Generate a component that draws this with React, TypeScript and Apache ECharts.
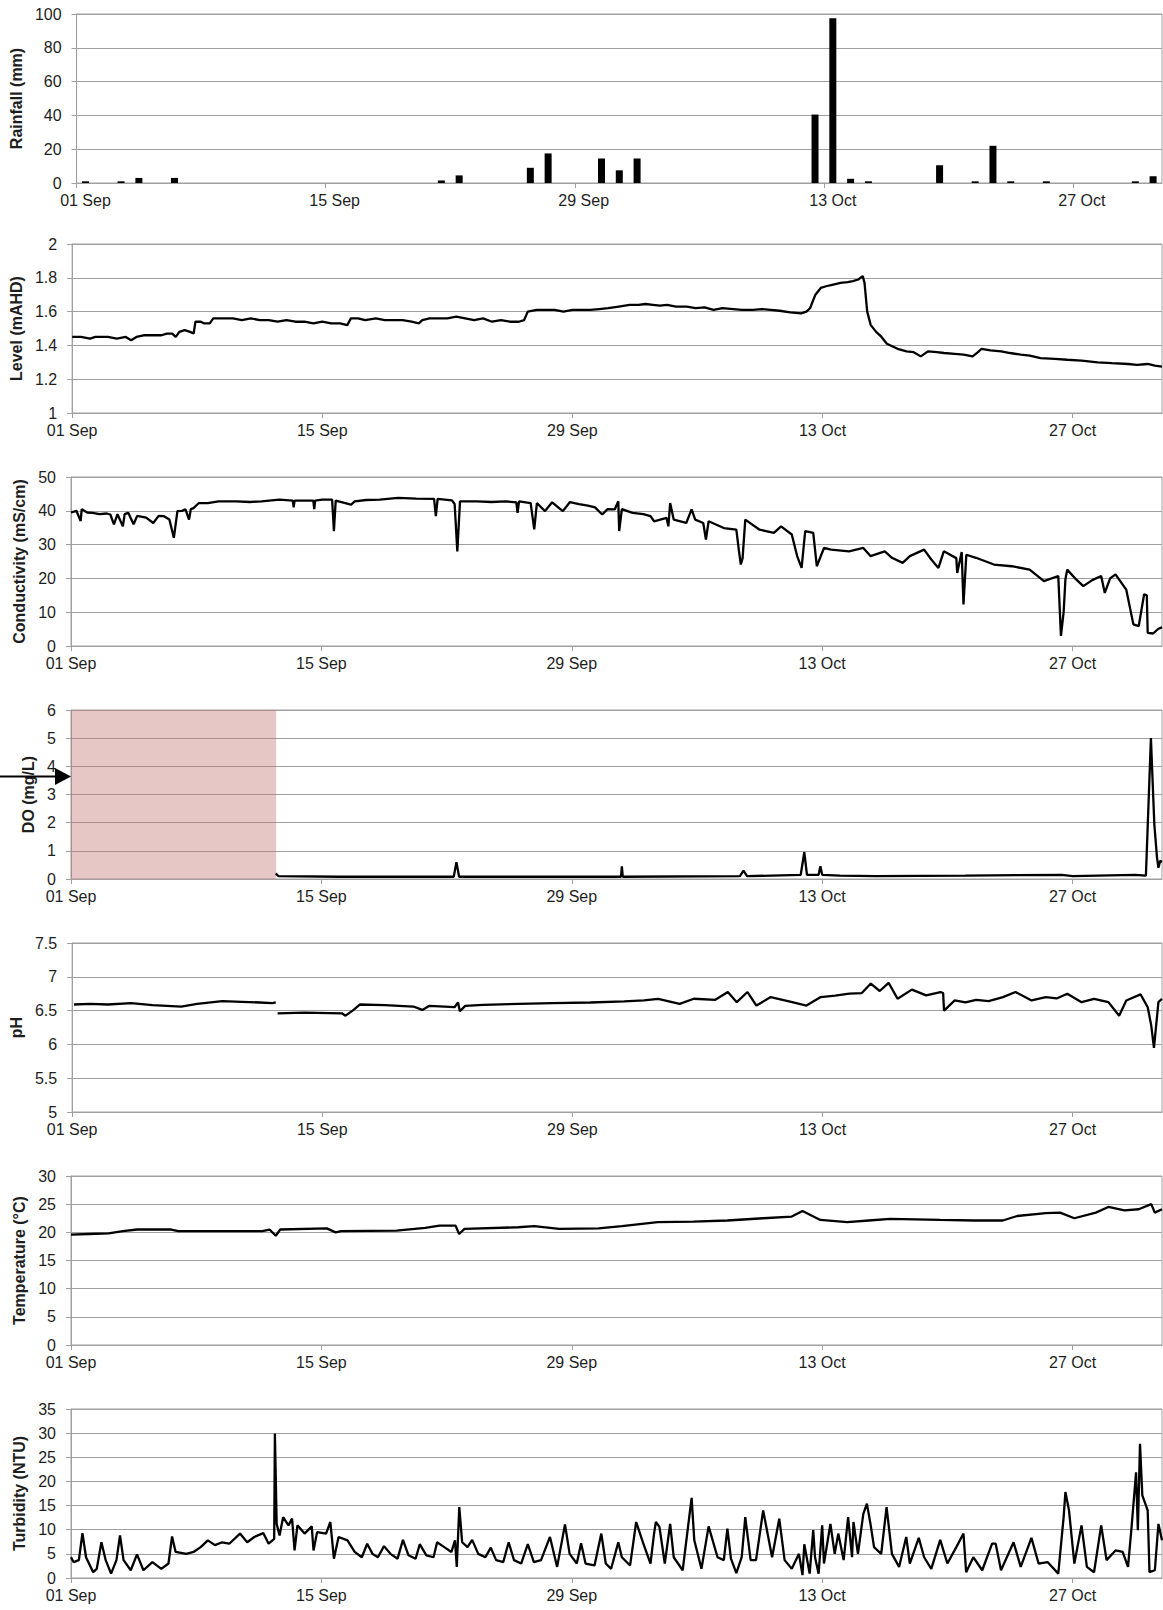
import React, { useEffect, useRef } from "react";
import * as echarts from "echarts";

// ---------- tick labels ----------
const xTickDays = [0, 14, 28, 42, 56];
const xTickLabels = ["01 Sep", "15 Sep", "29 Sep", "13 Oct", "27 Oct"];

// ---------- rainfall (daily totals, day index from 01 Sep) ----------
const rainfallDayIndex = [0, 2, 3, 5, 20, 21, 25, 26, 29, 30, 31, 41, 42, 43, 44, 48, 50, 51, 52, 54, 59, 60];
const rainfallMm = [1, 1, 3, 3, 1.5, 4.5, 9, 17.5, 14.5, 7.5, 14.5, 40.5, 97.5, 2.5, 1, 10.5, 1, 22, 1, 1, 1, 4];

// ---------- level [day, mAHD] ----------
const levelSeries = [
  [0, 1.45], [0.5, 1.45], [1, 1.44], [1.3, 1.45], [2, 1.45], [2.5, 1.44], [3, 1.45], [3.3, 1.43], [3.6, 1.45],
  [4, 1.46], [4.5, 1.46], [5, 1.46], [5.3, 1.47], [5.6, 1.47], [5.8, 1.45], [6, 1.48], [6.3, 1.49], [6.6, 1.48],
  [6.8, 1.47], [6.9, 1.54], [7.2, 1.54], [7.4, 1.53], [7.7, 1.53], [7.9, 1.56], [8.5, 1.56], [9, 1.56], [9.5, 1.55],
  [10, 1.56], [10.5, 1.55], [11, 1.55], [11.5, 1.54], [12, 1.55], [12.5, 1.54], [13, 1.54], [13.5, 1.53], [14, 1.54],
  [14.5, 1.53], [15, 1.53], [15.4, 1.52], [15.6, 1.56], [16, 1.56], [16.4, 1.55], [17, 1.56], [17.5, 1.55], [18, 1.55],
  [18.5, 1.55], [19, 1.54], [19.4, 1.53], [19.6, 1.55], [20, 1.56], [20.5, 1.56], [21, 1.56], [21.5, 1.57], [22, 1.56],
  [22.5, 1.55], [23, 1.56], [23.5, 1.54], [24, 1.55], [24.5, 1.54], [25, 1.54], [25.3, 1.55], [25.5, 1.6], [26, 1.61],
  [26.5, 1.61], [27, 1.61], [27.5, 1.6], [28, 1.61], [28.5, 1.61], [29, 1.61], [29.5, 1.615], [30, 1.62], [30.6, 1.63],
  [31.2, 1.64], [31.7, 1.64], [32.1, 1.645], [32.5, 1.64], [32.9, 1.635], [33.3, 1.64], [33.8, 1.63], [34.4, 1.63],
  [34.9, 1.62], [35.4, 1.625], [35.9, 1.61], [36.4, 1.62], [37, 1.615], [37.5, 1.61], [38.1, 1.61], [38.6, 1.615],
  [39.1, 1.61], [39.6, 1.605], [40.2, 1.595], [40.8, 1.59], [41.1, 1.6], [41.3, 1.62], [41.6, 1.7], [41.9, 1.74],
  [42.2, 1.75], [42.6, 1.76], [43, 1.77], [43.4, 1.775], [43.7, 1.78], [44, 1.79], [44.25, 1.81], [44.35, 1.77],
  [44.5, 1.6], [44.7, 1.52], [45, 1.48], [45.3, 1.45], [45.6, 1.41], [45.9, 1.395], [46.2, 1.38], [46.7, 1.365],
  [47.1, 1.36], [47.5, 1.335], [47.9, 1.365], [48.4, 1.36], [48.8, 1.355], [49.4, 1.35], [49.9, 1.345], [50.4, 1.335],
  [50.7, 1.36], [50.9, 1.38], [51.4, 1.37], [52, 1.365], [52.5, 1.355], [53.1, 1.345], [53.6, 1.34], [54.2, 1.325],
  [55, 1.32], [55.7, 1.315], [56.5, 1.31], [57.4, 1.3], [58.2, 1.295], [59.1, 1.29], [59.6, 1.285], [60.2, 1.29],
  [60.6, 1.28], [61, 1.275],
];

// ---------- conductivity [day, mS/cm] ----------
const conductivitySeries = [
  [0, 39.5], [0.3, 40], [0.54, 37], [0.6, 40.5], [0.9, 39.5], [1.2, 39.4], [1.6, 39], [2, 39.2], [2.2, 38.9], [2.4, 36],
  [2.6, 39], [2.9, 35.4], [3, 39], [3.2, 39.4], [3.5, 36], [3.7, 38.5], [4.2, 38], [4.6, 36.4], [4.9, 38.5], [5.2, 38.4],
  [5.5, 37.4], [5.75, 32], [5.95, 39.9], [6.2, 40], [6.4, 40.4], [6.6, 37.4], [6.7, 40.5], [6.85, 40.8], [7.15, 42.3],
  [7.65, 42.3], [8.25, 42.8], [9.25, 42.8], [10, 42.6], [10.65, 42.8], [11.65, 43.3], [12.4, 43], [12.45, 41], [12.5, 43],
  [13.55, 43], [13.6, 40.5], [13.65, 43], [14.06, 43.3], [14.6, 43.3], [14.7, 34], [14.8, 43], [15.66, 41.8], [15.86, 42.8],
  [16.5, 43.2], [17.26, 43.3], [18.3, 43.8], [19.3, 43.6], [20.3, 43.5], [20.4, 38.4], [20.5, 43.5], [21.3, 43.1],
  [21.45, 42], [21.6, 28], [21.75, 42.8], [22.7, 42.8], [23.5, 42.6], [24.3, 42.8], [24.9, 42.5], [24.97, 39.4],
  [25.05, 42.8], [25.7, 42.3], [25.9, 34.5], [26.05, 42.3], [26.5, 39.9], [26.9, 42.5], [27.5, 39.9], [27.9, 42.6],
  [28.4, 42], [28.9, 41.5], [29.3, 41], [29.7, 38.9], [30, 40.5], [30.4, 40.4], [30.6, 42.8], [30.65, 34], [30.8, 40.5],
  [31.4, 39.4], [32, 39], [32.4, 38.4], [32.6, 36.9], [33.3, 37.9], [33.4, 35.4], [33.5, 42.3], [33.7, 37.4], [34.4, 36.4],
  [34.7, 40.4], [34.9, 37.4], [35.35, 36.4], [35.5, 31.5], [35.65, 36.9], [36.5, 34.9], [37.2, 34.4], [37.35, 28],
  [37.45, 24.1], [37.55, 26], [37.7, 37.4], [38.5, 34.4], [39.3, 33.5], [39.7, 35.4], [40.3, 33], [40.6, 26.6],
  [40.85, 23.1], [41.05, 34], [41.5, 33.5], [41.7, 23.6], [42.1, 29], [42.5, 28.5], [43.5, 28], [44.3, 29], [44.7, 26.6],
  [45.5, 28], [45.9, 26.1], [46.5, 24.6], [46.9, 26.6], [47.7, 28.5], [48.1, 25.6], [48.5, 23.1], [48.8, 28], [49.5, 26],
  [49.55, 21.6], [49.8, 27.8], [49.9, 12.3], [50.06, 27], [50.6, 26.1], [51.6, 24.1], [52.6, 23.6], [53.6, 22.6],
  [54.4, 19.2], [55.2, 20.7], [55.35, 3], [55.5, 10], [55.6, 19.7], [55.7, 22.6], [56.2, 19.7], [56.6, 17.7], [57.1, 19.5],
  [57.6, 20.7], [57.8, 15.7], [58.1, 20], [58.4, 21.2], [59, 16.7], [59.4, 6.4], [59.7, 5.9], [60, 15.3], [60.15, 15],
  [60.2, 3.9], [60.5, 3.7], [60.8, 5.1], [61, 5.5],
];

// ---------- dissolved oxygen [day, mg/L] ----------
const doMissingUntilDay = 11.47;
const doSeries = [
  [11.45, 0.2], [11.6, 0.1], [15, 0.08], [21.4, 0.08], [21.55, 0.6], [21.7, 0.08], [30.75, 0.08], [30.8, 0.45], [30.85, 0.08],
  [37.4, 0.1], [37.6, 0.3], [37.8, 0.1], [40.8, 0.15], [41, 0.95], [41.15, 0.15], [41.8, 0.15], [41.9, 0.45], [42, 0.15],
  [43, 0.12], [45, 0.1], [50, 0.12], [55.4, 0.15], [56, 0.1], [59.5, 0.15], [60.1, 0.12], [60.38, 5.0], [60.57, 1.95],
  [60.72, 0.77], [60.8, 0.4], [60.9, 0.65], [61, 0.6],
];

// ---------- pH [day, pH]  (null = logger gap) ----------
const phSeries = [
  [0.1, 6.59], [1, 6.6], [2, 6.59], [3.3, 6.61], [4.5, 6.58], [6.1, 6.56], [7, 6.6], [8.4, 6.64], [9.5, 6.63], [10.5, 6.62],
  [11.2, 6.61], [11.4, 6.62], [11.45, null],
  [11.5, 6.46], [13, 6.47], [15.1, 6.46], [15.3, 6.425], [15.7, 6.5], [16.1, 6.59], [17.5, 6.58], [19.1, 6.56], [19.6, 6.51],
  [20, 6.57], [21.4, 6.55], [21.6, 6.62], [21.7, 6.49], [22, 6.57], [23, 6.585], [25, 6.6], [26.9, 6.61], [29, 6.62],
  [30.9, 6.635], [32, 6.65], [32.8, 6.675], [34, 6.6], [34.8, 6.675], [36, 6.66], [36.7, 6.775], [37.2, 6.625],
  [37.8, 6.775], [38.3, 6.575], [39.1, 6.7], [40.3, 6.625], [41.1, 6.575], [41.9, 6.7], [42.7, 6.72], [43.5, 6.75],
  [44.2, 6.76], [44.7, 6.9], [45.2, 6.79], [45.7, 6.91], [46.2, 6.675], [47, 6.81], [47.8, 6.725], [48.6, 6.775],
  [48.75, 6.76], [48.8, 6.5], [49.4, 6.65], [50, 6.62], [50.6, 6.66], [51.3, 6.64], [52.1, 6.7], [52.8, 6.775],
  [53.7, 6.65], [54.5, 6.7], [55.1, 6.68], [55.7, 6.75], [56.5, 6.625], [57.2, 6.675], [58, 6.625], [58.6, 6.425],
  [59, 6.65], [59.8, 6.74], [60.2, 6.55], [60.4, 6.275], [60.55, 5.95], [60.8, 6.625], [61, 6.675],
];

// ---------- temperature [day, °C] ----------
const temperatureSeries = [
  [0, 19.6], [1, 19.7], [2.1, 19.8], [2.9, 20.2], [3.7, 20.5], [5.6, 20.5], [6, 20.2], [8, 20.2], [10.7, 20.2], [11.1, 20.5],
  [11.45, 19.4], [11.7, 20.5], [14.3, 20.7], [14.8, 20], [15.1, 20.2], [18.2, 20.3], [19.8, 20.8], [20.6, 21.2], [21.5, 21.2],
  [21.7, 19.7], [22, 20.6], [25, 20.9], [25.9, 21.1], [27.3, 20.6], [29.5, 20.7], [30.8, 21.1], [32.8, 21.8], [34.8, 21.9],
  [36.7, 22.1], [38.7, 22.5], [40.3, 22.8], [40.9, 23.8], [41.9, 22.2], [43.4, 21.8], [44.6, 22.1], [45.8, 22.4],
  [48.6, 22.2], [50.5, 22.1], [52.1, 22.1], [52.9, 22.9], [54.5, 23.4], [55.3, 23.5], [56.1, 22.5], [57.3, 23.5],
  [58, 24.5], [58.9, 23.9], [59.7, 24.1], [60.4, 25], [60.6, 23.5], [61, 24.1],
];

// ---------- turbidity [day, NTU] ----------
const turbiditySeries = [
  [0, 4.3], [0.14, 3.3], [0.44, 3.7], [0.64, 9.3], [0.84, 4.3], [1.24, 1.2], [1.44, 1.9], [1.7, 7.4], [1.94, 3.7], [2.24, 0.9],
  [2.54, 3.7], [2.74, 8.8], [2.94, 3.7], [3.34, 1.6], [3.69, 4.9], [4.05, 1.6], [4.55, 3.3], [5.05, 1.9], [5.45, 3.0],
  [5.65, 8.6], [5.85, 5.4], [6.45, 5.0], [6.85, 5.4], [7.25, 6.4], [7.65, 7.8], [8.05, 6.8], [8.45, 7.4], [8.85, 7.1],
  [9.45, 9.2], [9.85, 7.4], [10.25, 8.5], [10.75, 9.3], [11.05, 7.1], [11.36, 8.1], [11.4, 29.9], [11.5, 11.2],
  [11.66, 8.8], [11.86, 12.6], [12.16, 10.9], [12.36, 12.3], [12.5, 5.7], [12.66, 10.9], [13.06, 9.2], [13.46, 10.7],
  [13.56, 5.7], [13.76, 9.5], [14.26, 9.2], [14.5, 11.6], [14.7, 4.0], [14.96, 8.5], [15.46, 7.8], [15.86, 5.4],
  [16.26, 4.3], [16.56, 7.1], [16.86, 5.0], [17.16, 4.3], [17.5, 6.6], [17.86, 5.0], [18.26, 4.0], [18.56, 7.9],
  [18.87, 4.7], [19.27, 4.0], [19.5, 7.0], [19.87, 4.7], [20.27, 4.3], [20.47, 7.4], [20.87, 6.4], [21.27, 5.4],
  [21.47, 7.8], [21.57, 2.3], [21.71, 14.7], [21.87, 7.4], [22.17, 6.4], [22.43, 7.9], [22.77, 5.0], [23.17, 4.3],
  [23.47, 6.3], [23.77, 3.7], [24.17, 3.3], [24.47, 7.4], [24.77, 3.7], [25.17, 3.0], [25.54, 7.0], [25.88, 3.3],
  [26.28, 3.7], [26.78, 8.5], [27.18, 2.3], [27.62, 11.1], [27.88, 5.0], [28.28, 3.0], [28.52, 7.2], [28.77, 3.0],
  [29.27, 2.6], [29.65, 9.2], [29.9, 3.0], [30.2, 1.9], [30.6, 7.4], [30.8, 4.3], [31.26, 2.6], [31.6, 11.6], [32, 7.1],
  [32.4, 3.0], [32.6, 9.2], [32.7, 11.6], [32.9, 10.6], [33.2, 3.0], [33.5, 11.2], [33.7, 4.3], [34.2, 1.6], [34.7, 16.6],
  [34.85, 7.8], [35.25, 1.9], [35.65, 10.7], [36.15, 4.3], [36.5, 3.7], [36.7, 10.2], [36.9, 4.0], [37.2, 1.0],
  [37.5, 4.3], [37.7, 12.6], [38, 3.7], [38.3, 3.7], [38.7, 14.0], [39.2, 4.3], [39.6, 12.3], [39.9, 3.7], [40.3, 1.9],
  [40.7, 5.0], [40.9, 0.6], [41, 7.0], [41.3, 0.9], [41.5, 9.9], [41.6, 4.3], [41.8, 0.9], [42, 10.9], [42.1, 3.0],
  [42.46, 11.2], [42.7, 5.0], [42.9, 9.2], [43.2, 3.7], [43.45, 12.6], [43.67, 4.3], [43.75, 11.6], [44, 5.0],
  [44.3, 13.3], [44.5, 15.4], [44.7, 11.2], [44.9, 6.4], [45.3, 5.0], [45.6, 14.7], [45.9, 5.0], [46.3, 2.3], [46.7, 8.5],
  [46.9, 3.0], [47.4, 8.3], [47.7, 4.3], [48.1, 1.9], [48.6, 7.9], [49, 3.0], [49.5, 6.4], [49.9, 9.2], [50.05, 1.2],
  [50.45, 4.3], [50.95, 1.6], [51.5, 7.1], [51.7, 7.1], [52, 1.6], [52.7, 7.4], [53.1, 2.3], [53.7, 8.3], [54.1, 3.0],
  [54.6, 3.3], [55.2, 0.9], [55.5, 12.6], [55.6, 17.8], [55.8, 14.0], [56.1, 3.0], [56.5, 10.9], [56.8, 2.3], [57.2, 1.2],
  [57.6, 10.9], [57.9, 3.7], [58.4, 5.7], [58.8, 5.4], [59.1, 2.3], [59.3, 10.6], [59.55, 21.9], [59.65, 9.9],
  [59.77, 27.8], [59.9, 17.1], [60.2, 14.0], [60.3, 1.2], [60.6, 1.6], [60.8, 11.2], [61, 7.8],
];

// ---------- panel definitions ----------
const panelNames = ["Rainfall (mm)", "Level (mAHD)", "Conductivity (mS/cm)", "DO (mg/L)", "pH", "Temperature (°C)", "Turbidity (NTU)"];
const panelMin = [0, 1, 0, 0, 5, 0, 0];
const panelMax = [100, 2, 50, 6, 7.5, 30, 35];
const panelInterval = [20, 0.2, 10, 1, 0.5, 5, 5];

const FONT = "'Liberation Sans', Arial, Helvetica, sans-serif";
const GRID_COLOR = "#a0a0a0";
const TEXT_COLOR = "#1e1e1e";

export default function App() {
  const ref = useRef<HTMLDivElement>(null);

  useEffect(() => {
    document.body.style.margin = "0";
    if (!ref.current) return;
    const chart = echarts.init(ref.current, undefined, { renderer: "svg" });

    const tops = [14, 244, 477, 710, 943, 1176, 1409];
    const plotHeight = 169;
    const gridLeft = 71;
    const nameGaps = [47.5, 45.5, 36.5, 28, 40.5, 36.5, 36.5];

    const grids = tops.map((t) => ({
      left: gridLeft,
      right: 1,
      top: t,
      height: plotHeight,
      show: true,
      borderColor: GRID_COLOR,
      borderWidth: 1,
      containLabel: false,
    }));

    const xAxes = tops.map((_, i) => {
      const labelOffset = i === 0 ? 0.5 : 0;
      return {
        type: "value",
        gridIndex: i,
        min: 0,
        max: 61,
        interval: 14,
        axisLine: { show: true, lineStyle: { color: GRID_COLOR, width: 1 } },
        axisTick: { show: true, inside: false, length: 5, customValues: xTickDays, lineStyle: { color: GRID_COLOR } },
        axisLabel: {
          show: true,
          customValues: xTickDays.map((d) => d + labelOffset),
          margin: 9,
          fontSize: 16,
          fontFamily: FONT,
          color: TEXT_COLOR,
          formatter: (v: number) => {
            const k = Math.round((v - labelOffset) / 14);
            return xTickLabels[k] ?? "";
          },
        },
        splitLine: { show: false },
      };
    });

    const yAxes = tops.map((_, i) => ({
      type: "value",
      gridIndex: i,
      min: panelMin[i],
      max: panelMax[i],
      interval: panelInterval[i],
      name: panelNames[i],
      nameLocation: "middle",
      nameRotate: 90,
      nameGap: nameGaps[i],
      nameTextStyle: { fontWeight: "bold", fontSize: 16, fontFamily: FONT, color: TEXT_COLOR },
      axisLine: { show: true, lineStyle: { color: GRID_COLOR, width: 1 } },
      axisTick: { show: true, inside: false, length: 5, lineStyle: { color: GRID_COLOR } },
      axisLabel: { margin: 15, fontSize: 16, fontFamily: FONT, color: TEXT_COLOR },
      splitLine: { show: true, lineStyle: { color: GRID_COLOR, width: 1 } },
    }));

    const lineStyle = { color: "#000", width: 2.3 };
    const mkLine = (i: number, data: any[], extra: any = {}) => ({
      type: "line",
      xAxisIndex: i,
      yAxisIndex: i,
      data,
      showSymbol: false,
      symbol: "none",
      connectNulls: false,
      lineStyle,
      itemStyle: { color: "#000" },
      z: 3,
      ...extra,
    });

    const option: any = {
      animation: false,
      backgroundColor: "#fff",
      grid: grids,
      xAxis: xAxes,
      yAxis: yAxes,
      graphic: [
        {
          type: "line",
          shape: { x1: 0, y1: 776.5, x2: 58, y2: 776.5 },
          style: { stroke: "#000", lineWidth: 2 },
          z: 100,
        },
        {
          type: "polygon",
          shape: { points: [[55, 768], [71, 776.5], [55, 785]] },
          style: { fill: "#000" },
          z: 100,
        },
      ],
      series: [
        {
          type: "bar",
          xAxisIndex: 0,
          yAxisIndex: 0,
          barWidth: 7,
          itemStyle: { color: "#000" },
          data: rainfallDayIndex.map((d, k) => [d + 0.5, rainfallMm[k]]),
        },
        mkLine(1, levelSeries),
        mkLine(2, conductivitySeries),
        mkLine(3, doSeries, {
          markArea: {
            silent: true,
            itemStyle: { color: "rgba(196,112,112,0.4)" },
            data: [[{ xAxis: 0 }, { xAxis: doMissingUntilDay }]],
          },
        }),
        mkLine(4, phSeries),
        mkLine(5, temperatureSeries),
        mkLine(6, turbiditySeries),
      ],
    };

    chart.setOption(option);
    return () => chart.dispose();
  }, []);

  return <div ref={ref} style={{ width: 1163, height: 1610, background: "#fff" }} />;
}
